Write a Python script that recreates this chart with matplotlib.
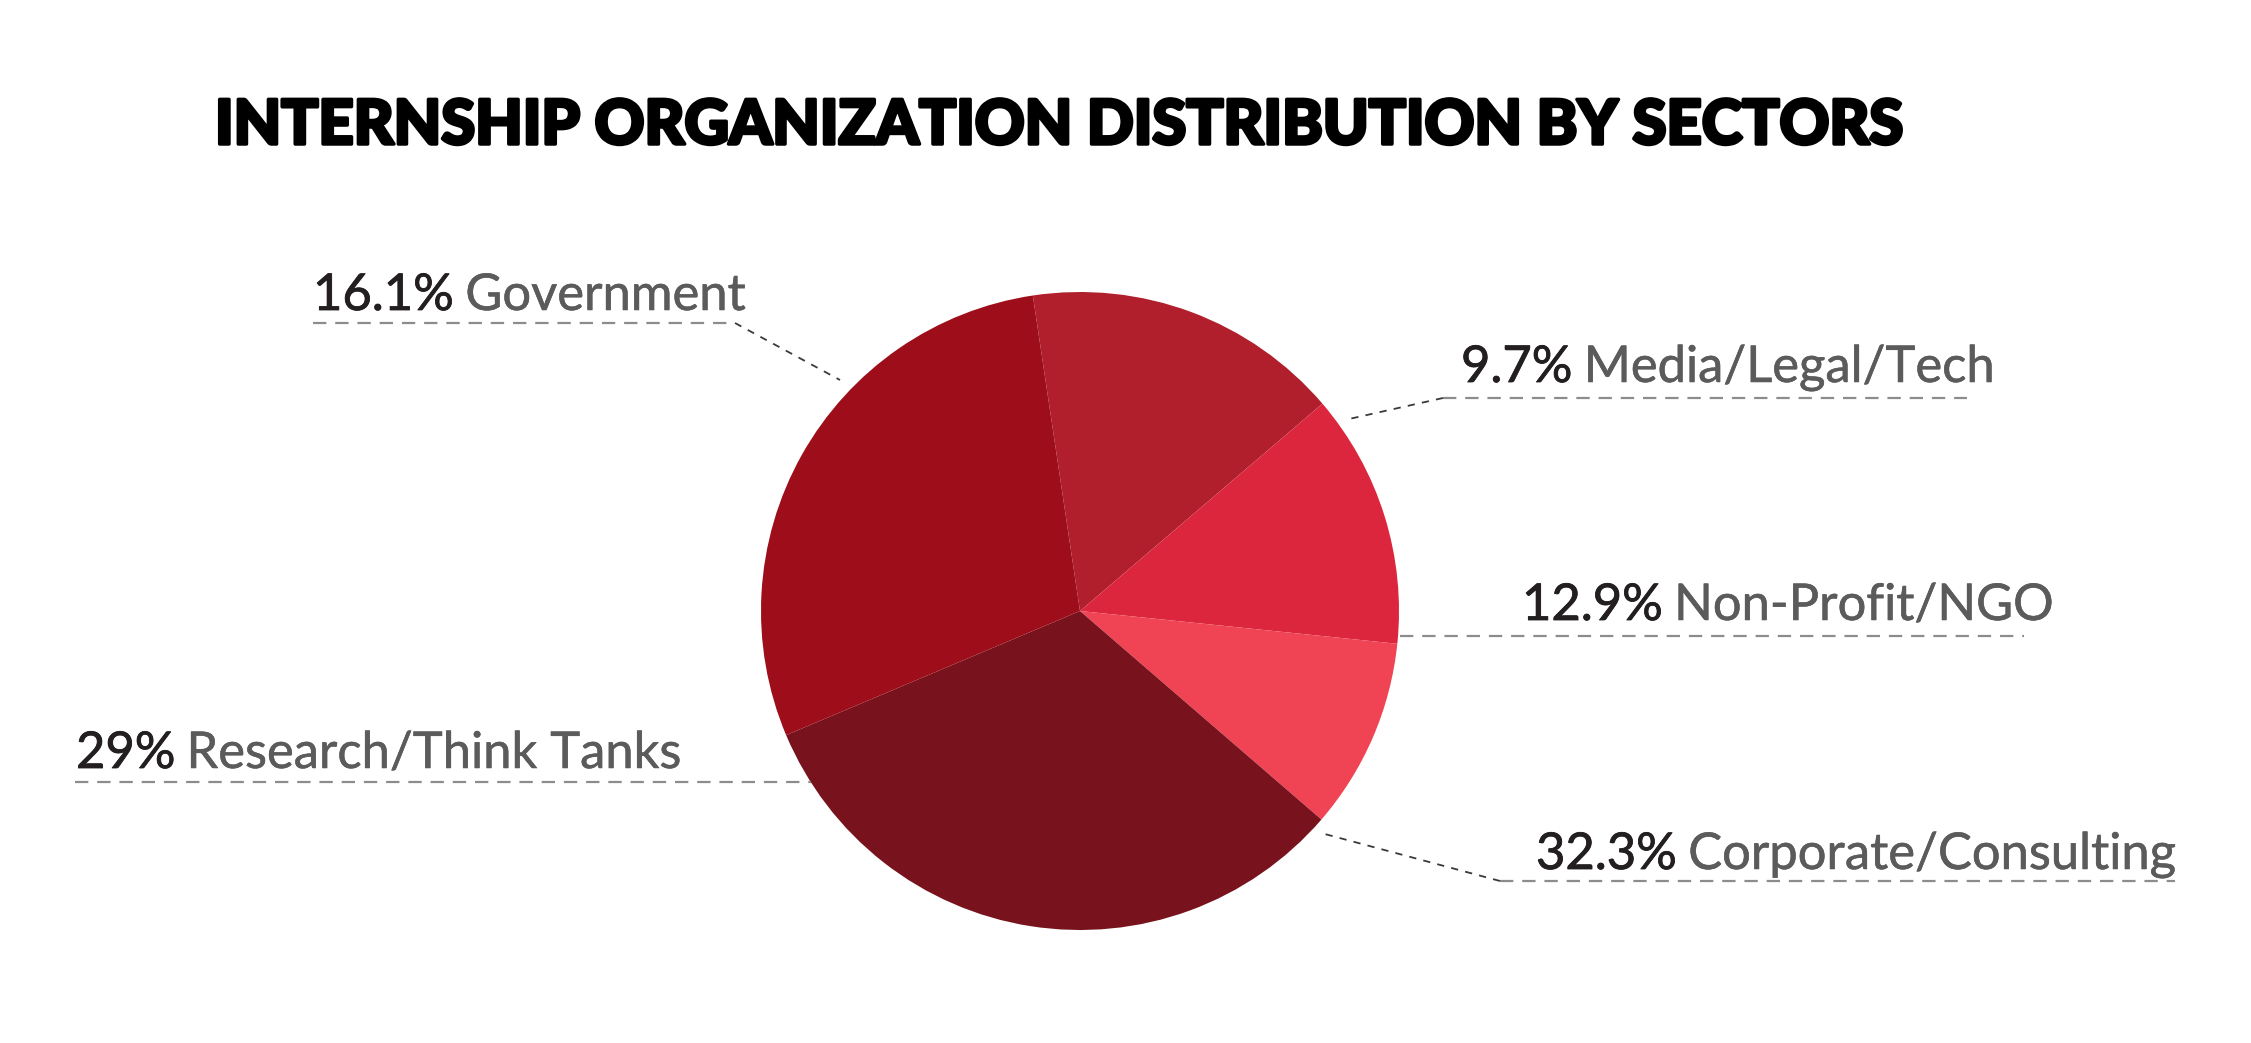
import matplotlib
matplotlib.use("Agg")
from matplotlib import pyplot as plt
import matplotlib.patheffects as pe

# Datos del grafico
sectores = ["Government", "Non-Profit/NGO", "Media/Legal/Tech",
            "Corporate/Consulting", "Research/Think Tanks"]
porcentajes = [16.1, 12.9, 9.7, 32.3, 29]
colores = ["#B01F2B", "#DC263E", "#F04353", "#78121D", "#9D0E1A"]
titulo = "INTERNSHIP ORGANIZATION DISTRIBUTION BY SECTORS"

# Tamano en pixeles (dpi 100)
W, H = 2251, 1043

# Posicion de cada etiqueta (x texto, linea base, y subrayado, x0 y x1 subrayado, punta de la guia)
# todo en pixeles medidos desde arriba
etiquetas = {
    "Government": (313, 310, 323, 313, 735, (840, 380)),
    "Media/Legal/Tech": (1461, 382, 398, 1443, 1967, (1349, 419)),
    "Non-Profit/NGO": (1522, 620, 636, 1400, 2024, None),
    "Research/Think Tanks": (76, 768, 782, 75, 811, None),
    "Corporate/Consulting": (1536, 869, 881, 1500, 2175, (1321, 833)),
}

fuente = ["Lato", "DejaVu Sans"]

fig = plt.figure(figsize=(W / 100, H / 100), dpi=100)
ax = fig.add_axes([0, 0, 1, 1])

#La torta
ax.pie(porcentajes, colors=colores, startangle=98.5, counterclock=False,
       center=(1080, H - 611), radius=319, wedgeprops={"linewidth": 0})
ax.set_xlim(0, W)
ax.set_ylim(0, H)
ax.axis("off")

#Titulo (engrosado con un trazo para parecerse a la fuente original)
ax.text(215, H - 144, titulo, fontsize=44.3, fontweight="black",
        family=fuente, color="black", va="baseline", ha="left",
        path_effects=[pe.withStroke(linewidth=2.5, foreground="black")])

renderer = fig.canvas.get_renderer()

#Etiquetas con subrayado y guia
for sector, valor in zip(sectores, porcentajes):
    xt, yb, yl, x0, x1, punta = etiquetas[sector]
    t1 = ax.text(xt, H - yb, f"{valor:g}%", fontsize=36.5, family=fuente,
                 color="#231F20", va="baseline", ha="left",
                 path_effects=[pe.withStroke(linewidth=0.6, foreground="#231F20")])
    bb = t1.get_window_extent(renderer)
    ax.text(bb.x1 + 11, H - yb, sector, fontsize=36.5, family=fuente,
            color="#5B5B5B", va="baseline", ha="left",
            path_effects=[pe.withStroke(linewidth=0.4, foreground="#5B5B5B")])
    ax.plot([x0, x1], [H - yl, H - yl], color="#8C8C8C", lw=1.6,
            dashes=(6, 4))
    if punta is not None:
        xs = x1 if sector == "Government" else x0
        ax.plot([xs, punta[0]], [H - yl, H - punta[1]], color="#3A3A3A",
                lw=1.3, dashes=(4, 4))

fig.savefig("out.png", dpi=100, facecolor="white")
